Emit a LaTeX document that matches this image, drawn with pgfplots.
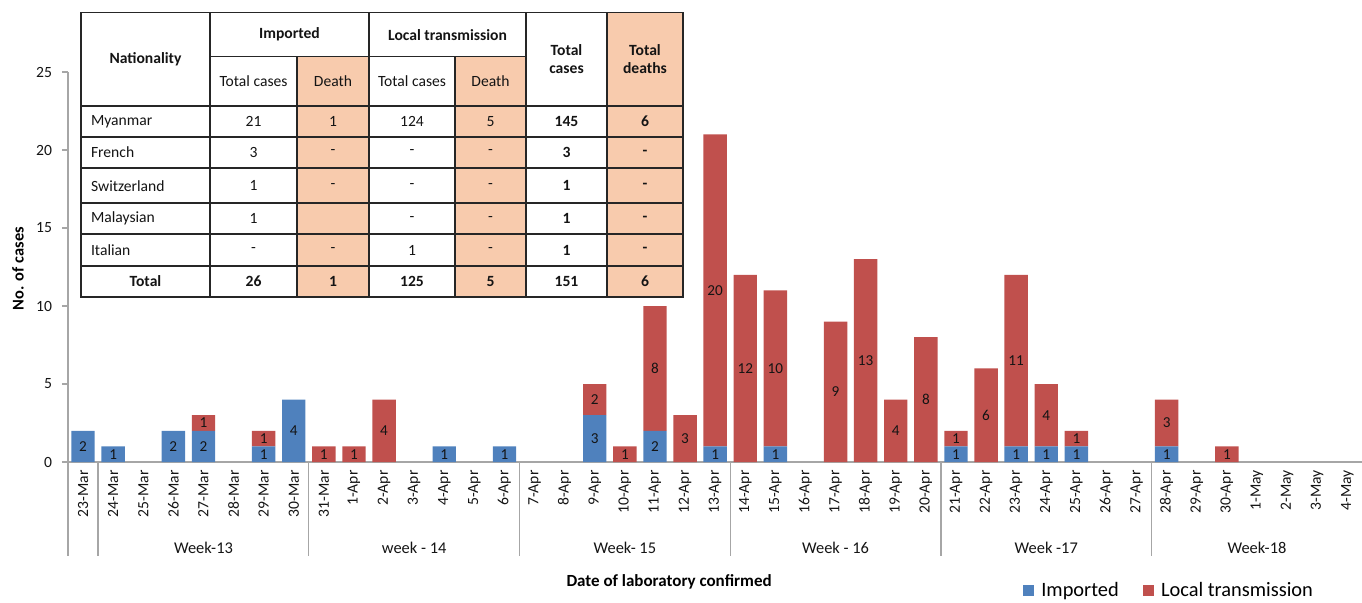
\documentclass[border=0pt]{standalone}
\usepackage{pgfplots}
\pgfplotsset{compat=1.18}
\usepackage{pgfplotstable}
\usepackage{fontspec}
\setmainfont{Carlito}
\definecolor{impc}{RGB}{79,129,189}
\definecolor{locc}{RGB}{192,80,77}
\definecolor{peach}{RGB}{248,203,173}
\definecolor{axgray}{RGB}{166,166,166}
\definecolor{txt}{RGB}{20,20,20}

\pgfplotstableread{
x imp loc
0 2 0
1 1 0
2 0 0
3 2 0
4 2 1
5 0 0
6 1 1
7 4 0
8 0 1
9 0 1
10 0 4
11 0 0
12 1 0
13 0 0
14 1 0
15 0 0
16 0 0
17 3 2
18 0 1
19 2 8
20 0 3
21 1 20
22 0 12
23 1 10
24 0 0
25 0 9
26 0 13
27 0 4
28 0 8
29 1 1
30 0 6
31 1 11
32 1 4
33 1 1
34 0 0
35 0 0
36 1 3
37 0 0
38 0 1
39 0 0
40 0 0
41 0 0
42 0 0
}\data

% label positions: middle of each segment, with its value
\pgfplotstableread{
x cy lab
0 1 2
1 0.5 1
3 1 2
4 1 2
6 0.5 1
7 2 4
12 0.5 1
14 0.5 1
17 1.5 3
19 1 2
21 0.5 1
23 0.5 1
29 0.5 1
31 0.5 1
32 0.5 1
33 0.5 1
36 0.5 1
4 2.5 1
6 1.5 1
8 0.5 1
9 0.5 1
10 2 4
17 4 2
18 0.5 1
19 6 8
20 1.5 3
21 11 20
22 6 12
23 6 10
25 4.5 9
26 6.5 13
27 2 4
28 4 8
29 1.5 1
30 3 6
31 6.5 11
32 3 4
33 1.5 1
36 2.5 3
38 0.5 1
}\labels

\newcommand{\tf}{\fontsize{7.8}{9}\selectfont}
\pgfplotsset{base/.style={
  at={(34pt,-231pt)}, anchor=south west,
  x=15.05pt, y=7.8pt,
  xmin=-0.5, xmax=42.5, ymin=0, ymax=25,
  clip=false}}

\begin{document}
\begin{tikzpicture}
\begin{axis}[base,
  ybar stacked, bar width=11.7pt,
  axis x line*=bottom, axis y line*=left,
  axis line style={axgray, line width=0.6pt},
  ytick={0,5,...,25},
  tick align=outside,
  major tick length=3pt,
  y tick style={axgray, line width=0.6pt},
  xtick={0,...,42},
  x tick style={draw=none},
  xticklabels={23-Mar,24-Mar,25-Mar,26-Mar,27-Mar,28-Mar,29-Mar,30-Mar,31-Mar,1-Apr,2-Apr,3-Apr,4-Apr,5-Apr,6-Apr,7-Apr,8-Apr,9-Apr,10-Apr,11-Apr,12-Apr,13-Apr,14-Apr,15-Apr,16-Apr,17-Apr,18-Apr,19-Apr,20-Apr,21-Apr,22-Apr,23-Apr,24-Apr,25-Apr,26-Apr,27-Apr,28-Apr,29-Apr,30-Apr,1-May,2-May,3-May,4-May},
  x tick label style={rotate=90, anchor=east, inner sep=1pt, font=\tf, text=txt},
  y tick label style={font=\tf, text=txt, xshift=-1.5pt},
  /pgf/number format/assume math mode=true,
  legend style={at={(0.733,-0.330)}, anchor=west, draw=none, fill=none, legend columns=2,
    font=\fontsize{10.2}{12}\selectfont,
    /tikz/every even column/.append style={column sep=10pt}},
  legend image code/.code={\fill[#1] (0pt,-2.8pt) rectangle (5.6pt,2.8pt);},
]
\addplot[fill=impc, draw=none] table[x=x,y=imp]{\data};
\addlegendentry{\hspace{1.5pt}Imported}
\addplot[fill=locc, draw=none] table[x=x,y=loc]{\data};
\addlegendentry{\hspace{1.5pt}Local transmission}

\pgfplotsinvokeforeach{-0.5,0.5,7.5,14.5,21.5,28.5,35.5}{
  \draw[axgray, line width=0.6pt] (axis cs:#1,0) -- ++(0pt,-47pt);
}
\node[font=\fontsize{8.2}{10}\selectfont, text=txt] at ([yshift=-43pt]axis cs:4,0) {Week-13};
\node[font=\fontsize{8.2}{10}\selectfont, text=txt] at ([yshift=-43pt]axis cs:11,0) {week - 14};
\node[font=\fontsize{8.2}{10}\selectfont, text=txt] at ([yshift=-43pt]axis cs:18,0) {Week- 15};
\node[font=\fontsize{8.2}{10}\selectfont, text=txt] at ([yshift=-43pt]axis cs:25,0) {Week - 16};
\node[font=\fontsize{8.2}{10}\selectfont, text=txt] at ([yshift=-43pt]axis cs:32,0) {Week -17};
\node[font=\fontsize{8.2}{10}\selectfont, text=txt] at ([yshift=-43pt]axis cs:39,0) {Week-18};
\node[font=\fontsize{8.5}{10}\selectfont\bfseries, text=black] at ([yshift=-60pt]axis cs:19.47,0) {Date of laboratory confirmed};
\node[rotate=90, font=\fontsize{8.2}{10}\selectfont\bfseries, text=black] at ([xshift=-25pt]axis cs:-0.5,12.4) {No. of cases};
\end{axis}

\begin{axis}[base, hide axis]
\addplot[draw=none, mark=none, nodes near coords, point meta=explicit symbolic,
  every node near coord/.append style={anchor=center, font=\fontsize{7.6}{9}\selectfont, text=txt}]
  table[x=x, y=cy, meta=lab]{\labels};
\end{axis}

\begin{scope}[x=0.5pt,y=-0.5pt, tl/.style={draw=black!85, line width=0.6pt}]
\fill[white] (81,12.7) rectangle (683,297);
\fill[peach] (297,56.7) rectangle (369,297);
\fill[peach] (455,56.7) rectangle (526,297);
\fill[peach] (607,12.7) rectangle (683,297);
\foreach \xx in {210,369,526,607} \draw[tl] (\xx,12.7) -- (\xx,297);
\foreach \xx in {297,455} \draw[tl] (\xx,56.7) -- (\xx,297);
\draw[tl] (210,56.7) -- (526,56.7);
\foreach \yy in {106,137,168,203,234,266} \draw[tl] (81,\yy) -- (683,\yy);
\draw[tl] (81,12.7) rectangle (683,297);
\begin{scope}[every node/.style={font=\tf, text=txt}]
\node at (145.5,59.3) {\bfseries Nationality};
\node at (289.5,34.7) {\bfseries Imported};
\node at (447.5,34.7) {\bfseries Local transmission};
\node[align=center, font=\tf\bfseries] at (566.5,59.3) {Total\\cases};
\node[align=center, font=\tf\bfseries] at (645,59.3) {Total\\deaths};
\node at (253.5,81.3) {Total cases};
\node at (333,81.3) {Death};
\node at (412,81.3) {Total cases};
\node at (490.5,81.3) {Death};
\node[anchor=west] at (84,121.3) {Myanmar};
\node at (253.5,121.3) {21}; \node at (333,121.3) {1}; \node at (412,121.3) {124}; \node at (490.5,121.3) {5};
\node at (566.5,121.3) {\bfseries 145}; \node at (645,121.3) {\bfseries 6};
\node[anchor=west] at (84,152.5) {French};
\node at (253.5,152.5) {3}; \node at (333,152.5) {-}; \node at (412,152.5) {-}; \node at (490.5,152.5) {-};
\node at (566.5,152.5) {\bfseries 3}; \node at (645,152.5) {\bfseries -};
\node[anchor=west] at (84,185.8) {Switzerland};
\node at (253.5,185.8) {1}; \node at (333,185.8) {-}; \node at (412,185.8) {-}; \node at (490.5,185.8) {-};
\node at (566.5,185.8) {\bfseries 1}; \node at (645,185.8) {\bfseries -};
\node[anchor=west] at (84,218.8) {Malaysian};
\node at (253.5,218.8) {1}; \node at (412,218.8) {-}; \node at (490.5,218.8) {-};
\node at (566.5,218.8) {\bfseries 1}; \node at (645,218.8) {\bfseries -};
\node[anchor=west] at (84,250) {Italian};
\node at (253.5,250) {-}; \node at (333,250) {-}; \node at (412,250) {1}; \node at (490.5,250) {-};
\node at (566.5,250) {\bfseries 1}; \node at (645,250) {\bfseries -};
\node at (145.5,281.2) {\bfseries Total};
\node at (253.5,281.2) {\bfseries 26}; \node at (333,281.2) {\bfseries 1}; \node at (412,281.2) {\bfseries 125}; \node at (490.5,281.2) {\bfseries 5};
\node at (566.5,281.2) {\bfseries 151}; \node at (645,281.2) {\bfseries 6};
\end{scope}
\end{scope}

\pgfresetboundingbox
\path[use as bounding box] (0pt,0pt) rectangle (681pt,-301pt);
\end{tikzpicture}
\end{document}
